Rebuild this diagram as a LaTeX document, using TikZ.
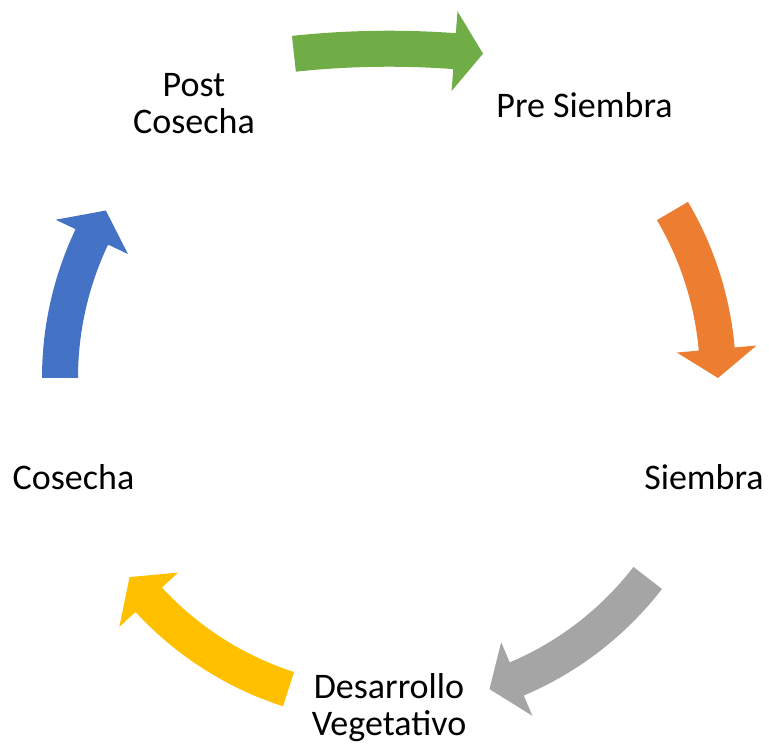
\documentclass[tikz,border=0pt]{standalone}
\usepackage{fontspec}
\setmainfont{Carlito}
\definecolor{cgreen}{HTML}{70AD47}
\definecolor{corange}{HTML}{ED7D31}
\definecolor{cgray}{HTML}{A5A5A5}
\definecolor{cyellow}{HTML}{FFC000}
\definecolor{cblue}{HTML}{4472C4}
% #1 colour, #2 cx, #3 cy, #4 radius, #5 tail angle, #6 head base angle, #7 tip angle
\newcommand\cyarrow[7]{%
  \pgfmathsetmacro\ro{#4+18}%
  \pgfmathsetmacro\ri{#4-18}%
  \pgfmathsetmacro\bo{#4+40}%
  \pgfmathsetmacro\bi{#4-40}%
  \begin{scope}[shift={(#2,#3)}]
    \fill[#1] (#5:\ro) arc[start angle=#5, end angle=#6, radius=\ro]
      -- (#6:\bo) -- (#7:#4) -- (#6:\bi) -- (#6:\ri)
      arc[start angle=#6, end angle=#5, radius=\ri] -- cycle;
  \end{scope}}
\tikzset{lbl/.style={inner sep=0pt, align=center, anchor=base,
  font=\fontsize{36}{37}\selectfont}}
\begin{document}
\begin{tikzpicture}[x=1pt,y=1pt]
\useasboundingbox (0,0) rectangle (769,746);
% arrows
\cyarrow{cgreen}{389}{-197.7}{895}{96.1}{85.8}{83.97}
\cyarrow{corange}{389}{368}{329}{30.5}{5.05}{0}
\cyarrow{cgray}{389}{368}{327}{-37.7}{-67}{-72.1}
\cyarrow{cyellow}{389}{368}{327}{-107.9}{-137.3}{-142.5}
\cyarrow{cblue}{389}{368}{329}{180}{154.6}{149.4}
% labels (base = baseline of the last line)
\node[lbl] (pre) at (584.5,628) {Pre Siembra};
\node[lbl] (sie) at (704,256) {Siembra};
\node[lbl] (des) at (389,10) {Desarrollo\\Vegetativo};
\node[lbl] (cos) at (73.5,256) {Cosecha};
\node[lbl] (post) at (194,612) {Post\\Cosecha};
\end{tikzpicture}
\end{document}
